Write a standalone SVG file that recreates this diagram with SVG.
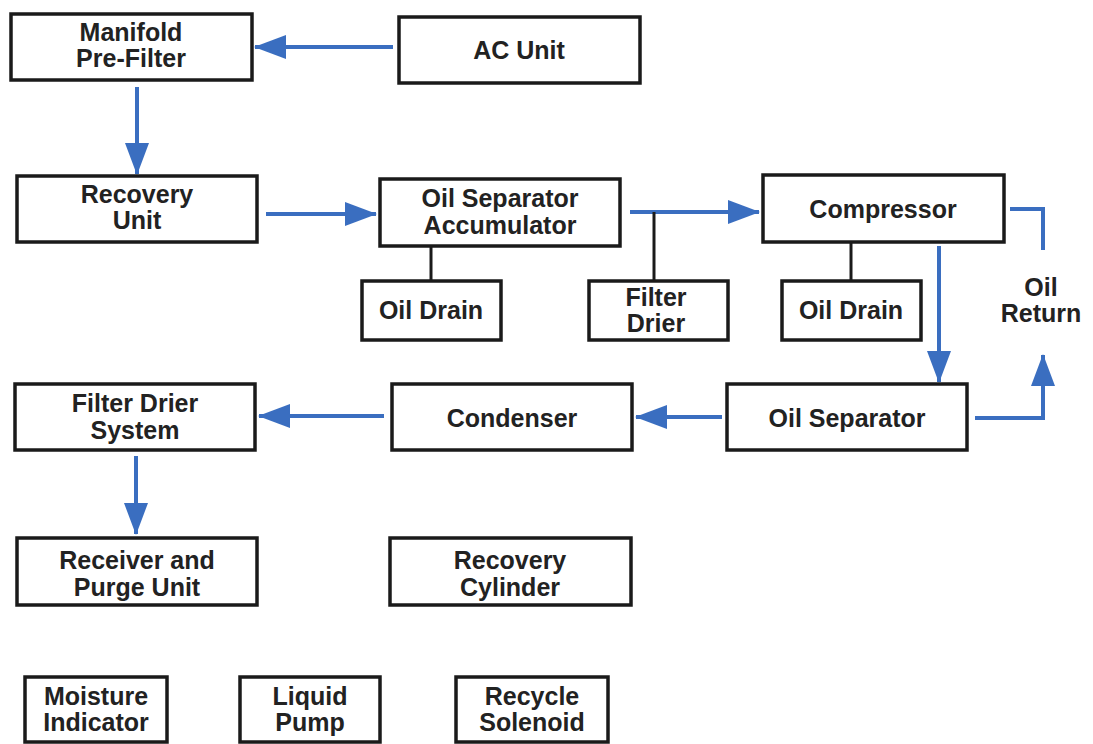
<svg xmlns="http://www.w3.org/2000/svg" width="1093" height="744" viewBox="0 0 1093 744">
<style>
.box{fill:#fff;stroke:#1a1a1a;stroke-width:3.5}
.t{font-family:"Liberation Sans",Arial,sans-serif;font-weight:bold;font-size:25px;fill:#222;text-anchor:middle}
.flow{stroke:#3a6ec0;stroke-width:4;fill:none}
.tie{stroke:#1a1a1a;stroke-width:3;fill:none}
</style>
<defs>
<marker id="ah" markerUnits="userSpaceOnUse" markerWidth="32" markerHeight="24" refX="31" refY="12" orient="auto">
<path d="M0,0 L32,12 L0,24 z" fill="#3a6ec0"/>
</marker>
</defs>
<rect width="1093" height="744" fill="#fff"/>
<g id="connectors">
<line class="flow" x1="393" y1="47" x2="255" y2="47" marker-end="url(#ah)"/>
<line class="flow" x1="137" y1="87" x2="137" y2="174" marker-end="url(#ah)"/>
<line class="flow" x1="266" y1="214" x2="376" y2="214" marker-end="url(#ah)"/>
<line class="flow" x1="630" y1="212" x2="759" y2="212" marker-end="url(#ah)"/>
<line class="tie" x1="654" y1="212" x2="654" y2="281"/>
<line class="tie" x1="431" y1="247" x2="431" y2="281"/>
<line class="tie" x1="851" y1="242" x2="851" y2="281"/>
<line class="flow" x1="939" y1="246" x2="939" y2="382" marker-end="url(#ah)"/>
<polyline class="flow" points="1010,209 1043,209 1043,250"/>
<polyline class="flow" points="975,418 1043,418 1043,355" marker-end="url(#ah)"/>
<line class="flow" x1="722" y1="417" x2="636" y2="417" marker-end="url(#ah)"/>
<line class="flow" x1="384" y1="416" x2="259" y2="416" marker-end="url(#ah)"/>
<line class="flow" x1="136" y1="456" x2="136" y2="534" marker-end="url(#ah)"/>
</g>
<g id="manifold"><rect class="box" x="11" y="14" width="241" height="66"/><text class="t" x="131" y="41">Manifold</text><text class="t" x="131" y="67">Pre-Filter</text></g>
<g id="ac-unit"><rect class="box" x="399" y="17" width="241" height="66"/><text class="t" x="519" y="59">AC Unit</text></g>
<g id="recovery-unit"><rect class="box" x="17" y="176" width="240" height="66"/><text class="t" x="137" y="203">Recovery</text><text class="t" x="137" y="229">Unit</text></g>
<g id="oil-sep-accum"><rect class="box" x="380" y="179" width="240" height="67"/><text class="t" x="500" y="207">Oil Separator</text><text class="t" x="500" y="234">Accumulator</text></g>
<g id="compressor"><rect class="box" x="763" y="175" width="241" height="67"/><text class="t" x="883" y="218">Compressor</text></g>
<g id="oil-drain-1"><rect class="box" x="362" y="281" width="139" height="59"/><text class="t" x="431" y="319">Oil Drain</text></g>
<g id="filter-drier"><rect class="box" x="589" y="281" width="139" height="59"/><text class="t" x="656" y="306">Filter</text><text class="t" x="656" y="332">Drier</text></g>
<g id="oil-drain-2"><rect class="box" x="782" y="281" width="139" height="59"/><text class="t" x="851" y="319">Oil Drain</text></g>
<g id="oil-return"><text class="t" x="1041" y="296">Oil</text><text class="t" x="1041" y="322">Return</text></g>
<g id="filter-drier-system"><rect class="box" x="15" y="384" width="240" height="66"/><text class="t" x="135" y="412">Filter Drier</text><text class="t" x="135" y="439">System</text></g>
<g id="condenser"><rect class="box" x="392" y="384" width="240" height="66"/><text class="t" x="512" y="427">Condenser</text></g>
<g id="oil-separator"><rect class="box" x="727" y="384" width="240" height="66"/><text class="t" x="847" y="427">Oil Separator</text></g>
<g id="receiver-purge"><rect class="box" x="17" y="538" width="240" height="67"/><text class="t" x="137" y="569">Receiver and</text><text class="t" x="137" y="596">Purge Unit</text></g>
<g id="recovery-cylinder"><rect class="box" x="390" y="538" width="241" height="67"/><text class="t" x="510" y="569">Recovery</text><text class="t" x="510" y="596">Cylinder</text></g>
<g id="moisture-indicator"><rect class="box" x="25" y="677" width="142" height="65"/><text class="t" x="96" y="705">Moisture</text><text class="t" x="96" y="731">Indicator</text></g>
<g id="liquid-pump"><rect class="box" x="240" y="677" width="140" height="65"/><text class="t" x="310" y="705">Liquid</text><text class="t" x="310" y="731">Pump</text></g>
<g id="recycle-solenoid"><rect class="box" x="456" y="677" width="152" height="65"/><text class="t" x="532" y="705">Recycle</text><text class="t" x="532" y="731">Solenoid</text></g>
</svg>
